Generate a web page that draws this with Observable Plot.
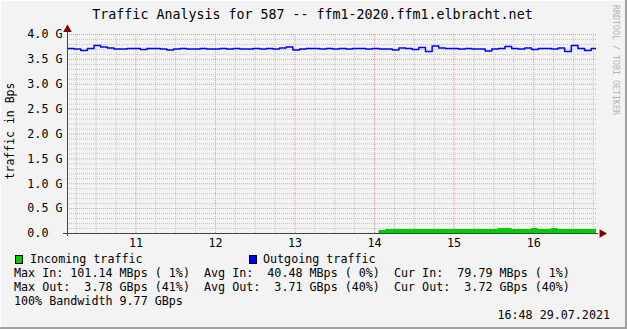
<!DOCTYPE html>
<html><head><meta charset="utf-8">
<script src="https://cdn.jsdelivr.net/npm/d3@7"></script>
<script src="https://cdn.jsdelivr.net/npm/@observablehq/plot@0.6"></script>
<style>
html,body{margin:0;padding:0;background:#f3f3f3;}
#wrap{position:relative;width:627px;height:329px;background:#f3f3f3;overflow:hidden;font-family:"DejaVu Sans Mono",monospace;color:#000;}
.abs{position:absolute;white-space:pre;line-height:1;}
#chart{position:absolute;left:0;top:0;}
.box{position:absolute;width:8px;height:9px;box-sizing:border-box;border:1px solid #000;}
</style></head><body>
<div id="wrap">
  <div id="chart"></div>
  <div class="abs" id="title" style="left:0;width:625px;text-align:center;top:7.5px;font-size:13.3px;"></div>
  <div class="abs" id="ylabel" style="left:11px;top:131px;font-size:11.5px;transform:translate(-50%,-50%) rotate(-90deg);"></div>
  <div class="abs" id="wm" style="left:612px;top:5px;font-size:8.3px;color:#b4b4b4;writing-mode:vertical-rl;"></div>
  <div id="legend"></div>
  <div style="position:absolute;left:0;top:0;width:627px;height:1px;background:#fdfdfd"></div>
  <div style="position:absolute;left:0;top:0;width:1px;height:329px;background:#fdfdfd"></div>
  <div style="position:absolute;left:625px;top:0;width:2px;height:329px;background:#a0a0a0"></div>
  <div style="position:absolute;left:0;top:327px;width:627px;height:2px;background:#a0a0a0"></div>
</div>
<script>
// ---- data ----
const titleText = "Traffic Analysis for 587 -- ffm1-2020.ffm1.elbracht.net";
const yAxisTitle = "traffic in Bps";
const watermark = "RRDTOOL / TOBI OETIKER";
const startHour = 10.14;          // first 5-minute sample (hours)
const stepHours = 5 / 60;
const endHour = 16.79;
const outGBps = [3.72,3.71,3.68,3.72,3.78,3.75,3.73,3.71,3.71,3.72,
                 3.72,3.70,3.72,3.72,3.71,3.69,3.71,3.72,3.71,3.71,
                 3.72,3.71,3.71,3.72,3.71,3.72,3.71,3.71,3.72,3.71,
                 3.72,3.71,3.73,3.75,3.69,3.71,3.72,3.72,3.71,3.72,
                 3.71,3.72,3.71,3.72,3.72,3.71,3.72,3.71,3.71,3.69,
                 3.73,3.72,3.70,3.74,3.66,3.77,3.73,3.72,3.72,3.71,
                 3.72,3.71,3.71,3.67,3.71,3.72,3.76,3.72,3.71,3.73,
                 3.70,3.72,3.72,3.71,3.73,3.66,3.78,3.72,3.68,3.72];
const inGBps = [0,0,0,0,0,0,0,0,0,0,
                0,0,0,0,0,0,0,0,0,0,
                0,0,0,0,0,0,0,0,0,0,
                0,0,0,0,0,0,0,0,0,0,
                0,0,0,0,0,0,0,0.06,0.08,0.08,
                0.08,0.08,0.08,0.08,0.08,0.08,0.08,0.08,0.08,0.08,
                0.08,0.08,0.08,0.08,0.08,0.10,0.10,0.08,0.08,0.08,
                0.10,0.08,0.08,0.10,0.08,0.08,0.08,0.08,0.08,0.08];
const hourTicks = [11, 12, 13, 14, 15, 16];
const hourLabels = ["11", "12", "13", "14", "15", "16"];
const yTicks = [0, 0.5, 1, 1.5, 2, 2.5, 3, 3.5, 4];
const yLabels = ["0.0\u00a0\u00a0", "0.5 G", "1.0 G", "1.5 G", "2.0 G", "2.5 G", "3.0 G", "3.5 G", "4.0 G"];
const seriesNames = ["Incoming traffic", "Outgoing traffic"];
const seriesColors = ["#00cc00", "#0000ff"];
const statLines = [
  "Max In: 101.14 MBps ( 1%)  Avg In:  40.48 MBps ( 0%)  Cur In:  79.79 MBps ( 1%)",
  "Max Out:  3.78 GBps (41%)  Avg Out:  3.71 GBps (40%)  Cur Out:  3.72 GBps (40%)",
  "100% Bandwidth 9.77 GBps"
];
const stampText = "16:48 29.07.2021";

// ---- build table ----
const rows = outGBps.map((v, i) => ({t: startHour + i * stepHours, out: v, inn: inGBps[i]}));
rows.push({t: endHour, out: outGBps[outGBps.length - 1], inn: inGBps[inGBps.length - 1]});

const minorX = d3.range(10.25, endHour, 0.25).filter(h => Math.abs(h - Math.round(h)) > 1e-6);
const minorY = d3.range(0.1, 4.0, 0.1).filter(v => Math.abs(v * 2 - Math.round(v * 2)) > 1e-6);
const xMin = startHour;

const plot = Plot.plot({
  width: 627, height: 250,
  marginLeft: 67, marginRight: 31, marginTop: 34, marginBottom: 17,
  x: {domain: [xMin, endHour]},
  y: {domain: [0, 4]},
  style: {fontFamily: "'DejaVu Sans Mono', monospace", fontSize: "11.7px", background: "transparent", color: "#000", overflow: "visible"},
  marks: [
    Plot.ruleX(minorX, {stroke: "#c2c2c2", strokeDasharray: "1,1", strokeWidth: 1}),
    Plot.ruleY(minorY, {stroke: "#c2c2c2", strokeDasharray: "1,1", strokeWidth: 1}),
    Plot.ruleX(hourTicks, {stroke: "#e79a9a", strokeDasharray: "1,1", strokeWidth: 1}),
    Plot.ruleY(yTicks.slice(1), {stroke: "#e79a9a", strokeDasharray: "1,1", strokeWidth: 1}),
    Plot.areaY(rows, {x: "t", y: "inn", curve: "step-after", fill: seriesColors[0], clip: true}),
    Plot.line(rows, {x: "t", y: "out", curve: "step-after", stroke: seriesColors[1], strokeWidth: 1.5, clip: true}),
    Plot.ruleX([xMin], {y1: -0.06, y2: 4.1, stroke: "#3c4a44", strokeWidth: 1}),
    Plot.ruleY([0], {x1: xMin - 0.05, x2: endHour + 0.03, stroke: "#2c4d43", strokeWidth: 1}),
    Plot.dot([{x: xMin, y: 4.1}], {x: "x", y: "y", symbol: "triangle", r: 3.2, fill: "#7f0000", stroke: null}),
    Plot.dot([{x: endHour + 0.07, y: 0}], {x: "x", y: "y", symbol: "triangle", r: 3.2, rotate: 90, fill: "#7f0000", stroke: null}),
    Plot.axisY(yTicks, {tickSize: 0, tickPadding: 5, tickFormat: d => yLabels[yTicks.indexOf(d)], fill: "#000"}),
    Plot.axisX(hourTicks, {tickSize: 0, tickPadding: 5, tickFormat: d => hourLabels[hourTicks.indexOf(d)], fill: "#000"})
  ]
});
document.getElementById("chart").appendChild(plot);

document.getElementById("title").textContent = titleText;
document.getElementById("ylabel").textContent = yAxisTitle;
document.getElementById("wm").textContent = watermark;

const legend = document.getElementById("legend");
const fs = 11.7;
function addText(txt, left, top, extra) {
  const d = document.createElement("div");
  d.className = "abs";
  d.style.left = left + "px"; d.style.top = top + "px"; d.style.fontSize = fs + "px";
  if (extra) Object.assign(d.style, extra);
  d.textContent = txt;
  legend.appendChild(d);
}
const boxX = [15, 249], textX = [30, 263];
seriesNames.forEach((n, i) => {
  const b = document.createElement("div");
  b.className = "box";
  b.style.left = boxX[i] + "px"; b.style.top = "255px"; b.style.background = seriesColors[i];
  legend.appendChild(b);
  addText(n, textX[i], 253.5);
});
statLines.forEach((s, i) => addText(s, 14, 267.5 + 14 * i));
addText(stampText, 0, 309.5, {left: "auto", right: "17px"});
</script>
</body></html>
